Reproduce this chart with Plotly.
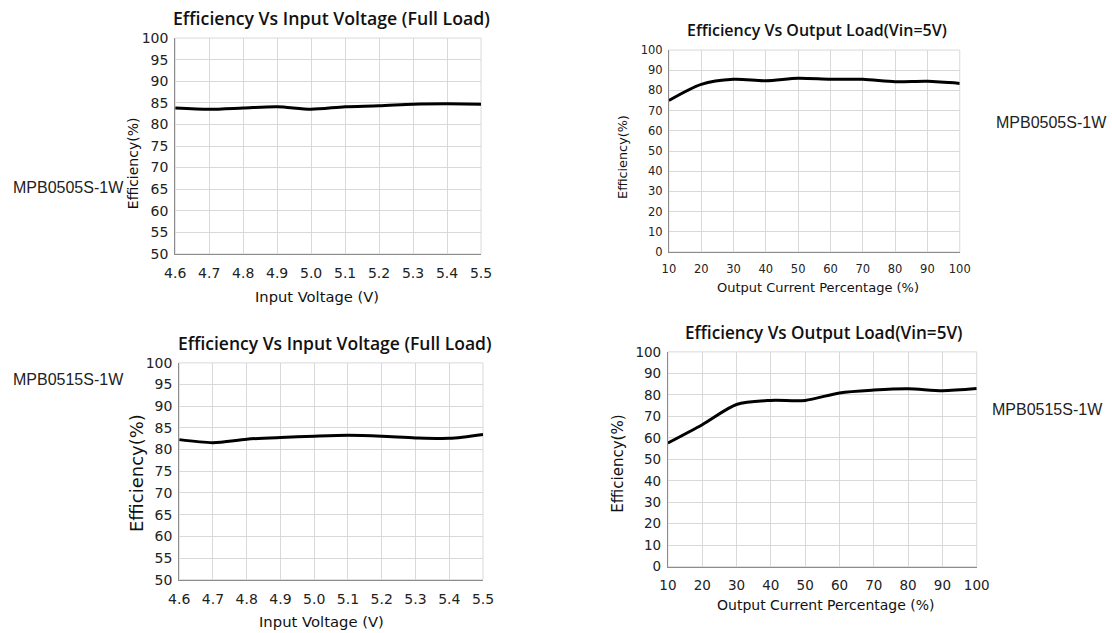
import plotly.graph_objects as go

# ---- data ----
vin = [4.6, 4.7, 4.8, 4.9, 5.0, 5.1, 5.2, 5.3, 5.4, 5.5]
eff_vin_0505 = [83.8, 83.5, 83.8, 84.1, 83.5, 84.1, 84.3, 84.7, 84.8, 84.7]
eff_vin_0515 = [82.3, 81.6, 82.4, 82.8, 83.1, 83.3, 83.1, 82.7, 82.6, 83.5]

load = [10, 20, 30, 40, 50, 60, 70, 80, 90, 100]
eff_load_0505 = [75.0, 83.0, 85.5, 84.8, 86.0, 85.5, 85.5, 84.3, 84.5, 83.5]
eff_load_0515 = [57.6, 66.1, 75.5, 77.4, 77.4, 80.9, 82.2, 82.8, 81.9, 82.9]

vin_ticks = ["4.6", "4.7", "4.8", "4.9", "5.0", "5.1", "5.2", "5.3", "5.4", "5.5"]
title_vin = "Efficiency Vs Input Voltage (Full Load)"
title_load = "Efficiency Vs Output Load(Vin=5V)"
xlab_vin = "Input Voltage (V)"
xlab_load = "Output Current Percentage (%)"
ylab = "Efficiency(%)"
models = ["MPB0505S-1W", "MPB0515S-1W"]

W, H = 1112, 633
TFONT = "Open Sans"
FONT = "DejaVu Sans"
GRID = "#d9d9d9"
AX = "#8c8c8c"

# empirical mapping from target picture pixels to page pixels
SX, OX = 0.979, 10.7
SY, OY = 0.9754, 7.9

def px(x):
    return ((x - OX) / SX) / W

def py(y):
    return 1 - ((y - OY) / SY) / H

fig = go.Figure()

panels = [
    dict(x=vin, y=eff_vin_0505, n="", box=(175, 481, 38, 254), yr=(50, 100), dt=5, kind="vin", fs=14),
    dict(x=load, y=eff_load_0505, n="2", box=(669, 960, 50, 252), yr=(0, 100), dt=10, kind="load", fs=11.5),
    dict(x=vin, y=eff_vin_0515, n="3", box=(179, 483, 363, 580), yr=(50, 100), dt=5, kind="vin", fs=14),
    dict(x=load, y=eff_load_0515, n="4", box=(668, 977, 352, 567), yr=(0, 100), dt=10, kind="load", fs=13.5),
]

annotations = []
for p in panels:
    l, r, t, b = p["box"]
    n = p["n"]
    fig.add_trace(go.Scatter(
        x=p["x"], y=p["y"], mode="lines",
        line=dict(color="black", width=3, shape="spline", smoothing=0.8),
        xaxis="x" + n, yaxis="y" + n, showlegend=False, hoverinfo="skip"))
    if p["kind"] == "vin":
        xa = dict(range=[4.6, 5.5], tickmode="array", tickvals=vin, ticktext=vin_ticks)
    else:
        xa = dict(range=[10, 100], tickmode="array", tickvals=load)
    tf = dict(family=FONT, size=p["fs"], color="#222")
    xa.update(domain=[px(l), px(r)], anchor="y" + n, showgrid=True, gridcolor=GRID,
              gridwidth=1, showline=True, linecolor=AX, linewidth=1, zeroline=False,
              ticks="outside", ticklen=6, tickcolor="rgba(0,0,0,0)", tickfont=tf,
              fixedrange=True)
    ya = dict(range=list(p["yr"]), dtick=p["dt"], tick0=0, domain=[py(b), py(t)],
              anchor="x" + n, showgrid=True, gridcolor=GRID, gridwidth=1,
              showline=True, linecolor=AX, linewidth=1, zeroline=False,
              ticks="outside", ticklen=3, tickcolor="rgba(0,0,0,0)",
              tickfont=tf, fixedrange=True)
    fig.update_layout(**{"xaxis" + n: xa, "yaxis" + n: ya})
    fig.add_shape(type="rect", xref="x" + n + " domain", yref="y" + n + " domain",
                  x0=0, x1=1, y0=0, y1=1, line=dict(color=GRID, width=1), layer="below")

# titles and axis labels (target pixel positions)
texts = [
    (title_vin, 331, 18, 17.7, TFONT, 0),
    (title_load, 817, 30, 16, TFONT, 0),
    (title_vin, 335, 343, 17.5, TFONT, 0),
    (title_load, 824, 333, 17.1, TFONT, 0),
    (xlab_vin, 317, 297, 14.7, FONT, 0),
    (xlab_load, 818, 288, 13, FONT, 0),
    (xlab_vin, 321, 622, 14.8, FONT, 0),
    (xlab_load, 826, 605, 14, FONT, 0),
    (ylab, 133, 163, 14, FONT, -90),
    (ylab, 623, 157, 12.8, FONT, -90),
    (ylab, 137, 473, 18, FONT, -90),
    (ylab, 618, 464, 15, FONT, -90),
]
for i, (txt, x, y, s, fam, ang) in enumerate(texts):
    annotations.append(dict(
        text=txt, x=px(x), y=py(y), xref="paper", yref="paper", xanchor="center",
        yanchor="middle", showarrow=False, textangle=ang,
        font=dict(family=fam, size=s, color="#111", weight=600 if i < 4 else 400)))

side = [
    (models[0], 0, 188, "left"),
    (models[0], 1052, 122, "center"),
    (models[1], 0, 380, "left"),
    (models[1], 1048, 410, "center"),
]
for txt, x, y, anc in side:
    annotations.append(dict(
        text=txt, x=(0 if anc == "left" else px(x)), y=py(y), xref="paper", yref="paper",
        xanchor=anc, yanchor="middle", showarrow=False,
        font=dict(family="Liberation Sans", size=16, color="#222")))

fig.update_layout(
    width=W, height=H, margin=dict(l=0, r=0, t=0, b=0),
    paper_bgcolor="white", plot_bgcolor="white",
    annotations=annotations, showlegend=False)

fig.write_html("out.html", config={"displayModeBar": False},
               post_script="document.body.style.margin='0';document.body.style.overflow='hidden';")
